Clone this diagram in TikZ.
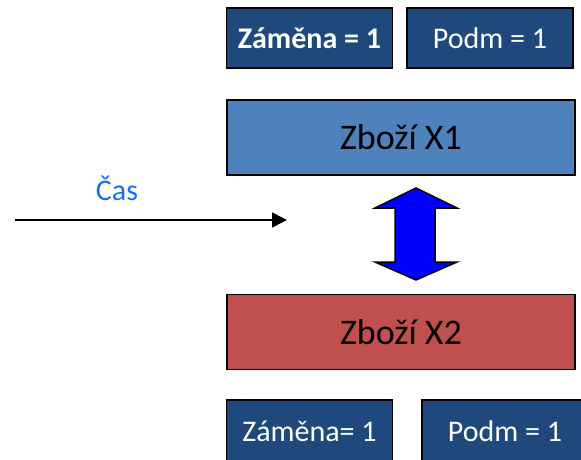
\documentclass[tikz,border=0pt]{standalone}
\usepackage{fontspec}
\setmainfont{Carlito}
\usetikzlibrary{arrows.meta}
\definecolor{darkbox}{RGB}{31,73,125}
\definecolor{xblue}{RGB}{79,129,189}
\definecolor{xred}{RGB}{192,80,77}
\definecolor{timeblue}{RGB}{20,110,250}
\tikzset{
  smallbox/.style={draw=black,line width=1.5pt,fill=darkbox,text=white,
    minimum width=166pt,minimum height=60pt,inner sep=0pt,
    font=\fontsize{30}{30}\selectfont},
  goodsbox/.style={draw=black,line width=1.5pt,text=black,
    minimum width=348pt,minimum height=75pt,inner sep=0pt,
    font=\fontsize{36}{36}\selectfont}
}
\begin{document}
\begin{tikzpicture}[x=1pt,y=-1pt]
  % Frame of the picture
  \useasboundingbox (0,0) rectangle (581,460);
  \clip (0,0) rectangle (581,460);

  % Top boxes
  \node[smallbox,font=\fontsize{30}{30}\selectfont\bfseries] (zamtop) at (309.5,38) {Záměna = 1};
  \node[smallbox] (podmtop) at (490,38) {Podm = 1};

  % Goods
  \node[goodsbox,fill=xblue] (xone) at (401,137.5) {Zboží X1};
  \node[goodsbox,fill=xred] (xtwo) at (401,332) {Zboží X2};

  % Bottom boxes
  \node[smallbox,minimum height=62pt] (zambot) at (309.5,431) {Záměna= 1};
  \node[smallbox,minimum height=62pt] (podmbot) at (505,431) {Podm = 1};

  % Double arrow between the goods
  \draw[line width=1.5pt,fill=blue,line join=miter]
    (416,188) -- (457,208) -- (435,208) -- (435,262) -- (457,262) -- (416,280)
    -- (375,262) -- (395,262) -- (395,208) -- (375,208) -- cycle;

  % Time axis
  \coordinate (tstart) at (15,220);
  \coordinate (tend) at (287,220);
  \draw[line width=1.5pt,-{Triangle[length=15pt,width=15pt]}] (tstart) -- (tend);
  \node[text=timeblue,font=\fontsize{30}{30}\selectfont] (cas) at (117,188) {Čas};
\end{tikzpicture}
\end{document}
